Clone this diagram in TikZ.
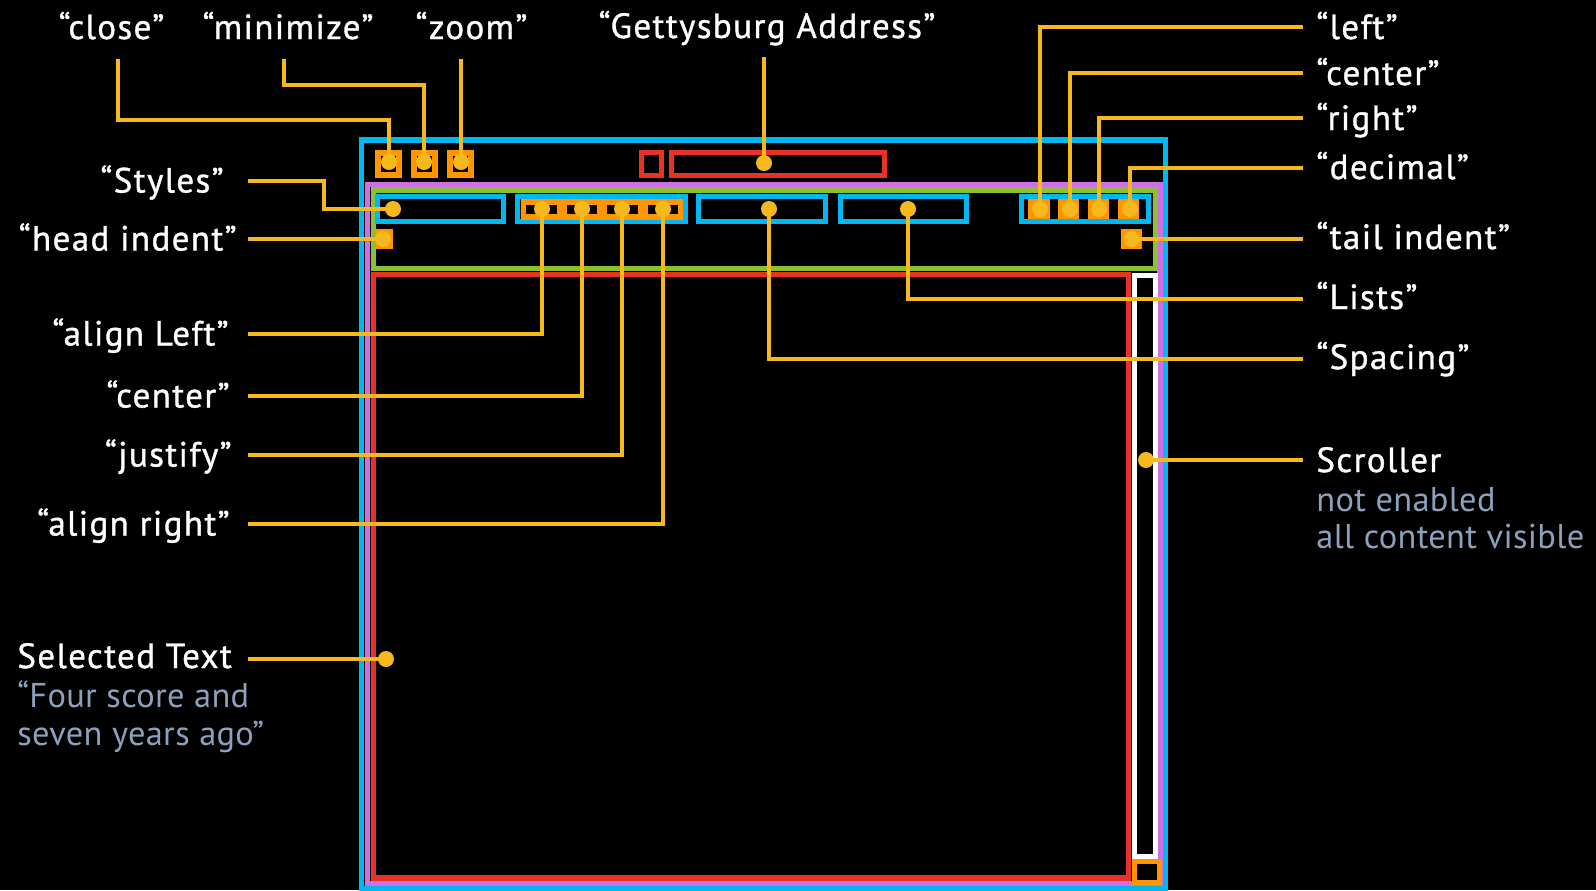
\documentclass[tikz,border=0pt]{standalone}
\usepackage{fontspec}
\setmainfont{PT Sans}
\newfontfamily\labfont[FakeBold=1,LetterSpace=4]{PT Sans}
\newfontfamily\subfont[LetterSpace=1]{PT Sans}
\definecolor{cyanB}{RGB}{0,183,240}
\definecolor{purpleB}{RGB}{208,110,232}
\definecolor{greenB}{RGB}{140,192,52}
\definecolor{redB}{RGB}{232,50,40}
\definecolor{orangeB}{RGB}{255,150,0}
\definecolor{ylead}{RGB}{245,185,30}
\definecolor{subgray}{RGB}{140,162,188}
\tikzset{
  frame/.style={line width=2.6pt},
  lead/.style={draw=ylead, line width=1.85pt},
  dotnode/.style={circle, fill=ylead, minimum size=8pt, inner sep=0pt},
  lab/.style={text=white, font=\labfont\fontsize{17.5pt}{19pt}\selectfont, inner sep=0pt},
  sublab/.style={text=subgray, font=\subfont\fontsize{17.2pt}{19pt}\selectfont, inner sep=0pt},
  btn/.style={draw=orangeB, line width=3pt, fill=black},
  sq/.style={fill=orangeB},
}
\begin{document}
\begin{tikzpicture}[x=0.5pt,y=-0.5pt]
\fill[black] (0,0) rectangle (1596,890);
\useasboundingbox (0,0) rectangle (1596,890);

% head indent square (under green)
\fill[sq] (373,229) rectangle (393,249);

% window frames
\draw[frame, purpleB] (367.5,184.5) rectangle (1160,883.5);
\draw[frame, cyanB] (361.5,140) rectangle (1165.5,888.5);
\draw[frame, greenB] (373.5,190) rectangle (1155.5,268.5);
\draw[frame, redB] (373.5,274.5) rectangle (1128.5,878);
\draw[frame, white] (1134.5,275.5) rectangle (1155.5,856.5);
\draw[frame, orangeB] (1134.5,861.5) rectangle (1159.5,882.5);

% title bar
\draw[btn] (378,153) rectangle (399,175);
\draw[btn] (414,153) rectangle (435,175);
\draw[btn] (450,153) rectangle (471,175);
\draw[frame, redB] (641.5,152.5) rectangle (661.5,175.5);
\draw[frame, redB] (671.5,152.5) rectangle (884.5,175.5);

% toolbar boxes
\draw[frame, cyanB] (377.5,196.5) rectangle (503.5,221.5);
\draw[frame, cyanB] (517.5,196.5) rectangle (685.5,221.5);
\draw[frame, cyanB] (698.5,196.5) rectangle (825.5,221.5);
\draw[frame, cyanB] (840.5,196.5) rectangle (966.5,221.5);
\draw[frame, cyanB] (1021.5,196.5) rectangle (1148.5,221.5);

% alignment segmented control
\fill[orangeB] (521,199) rectangle (683,220);
\foreach \i in {0,1,2,3}{
  \fill[black] ({521+40.5*\i+5},205) rectangle ({521+40.5*(\i+1)-5},214);
}
% tab stops
\fill[sq] (1028,199) rectangle (1050,219);
\fill[sq] (1058,199) rectangle (1079,219);
\fill[sq] (1088,199) rectangle (1109,219);
\fill[sq] (1118,199) rectangle (1139,219);
% tail indent
\fill[sq] (1121,229) rectangle (1142,249);

% dot positions
\coordinate (pClose) at (389,162);
\coordinate (pMin) at (424,162);
\coordinate (pZoom) at (461,162);
\coordinate (pTitle) at (764,163);
\coordinate (pStyles) at (393,209);
\coordinate (pHead) at (383,239);
\coordinate (pAL) at (542,209);
\coordinate (pAC) at (582,209);
\coordinate (pAJ) at (622,209);
\coordinate (pAR) at (663,209);
\coordinate (pSpacing) at (769,209);
\coordinate (pLists) at (908,209);
\coordinate (pTL) at (1040,209);
\coordinate (pTC) at (1070,209);
\coordinate (pTR) at (1099,209);
\coordinate (pTD) at (1130,209);
\coordinate (pTail) at (1132,239);
\coordinate (pScroll) at (1146,460);
\coordinate (pSel) at (386,659);

% leader starts
\coordinate (sClose) at (118,59);
\coordinate (sMin) at (284,59);
\coordinate (sZoom) at (461,59);
\coordinate (sTitle) at (764,57);
\coordinate (sStyles) at (248,181);
\coordinate (sHead) at (248,239);
\coordinate (sAL) at (248,334);
\coordinate (sAC) at (248,396);
\coordinate (sAJ) at (248,455);
\coordinate (sAR) at (248,524);
\coordinate (sSel) at (248,659);
\coordinate (eTL) at (1303,27);
\coordinate (eTC) at (1303,73);
\coordinate (eTR) at (1303,118);
\coordinate (eTD) at (1303,168);
\coordinate (eTail) at (1303,239);
\coordinate (eLists) at (1303,299);
\coordinate (eSpacing) at (1303,359);
\coordinate (eScroll) at (1303,460);

% leaders
\draw[lead] (sClose) -- (sClose |- 0,120) -- (pClose |- 0,120) -- (pClose);
\draw[lead] (sMin) -- (sMin |- 0,85) -- (pMin |- 0,85) -- (pMin);
\draw[lead] (sZoom) -- (pZoom);
\draw[lead] (sTitle) -- (pTitle);
\draw[lead] (sStyles) -- (324,181) -- (324,209) -- (pStyles);
\draw[lead] (sHead) -- (pHead);
\draw[lead] (sAL) -| (pAL);
\draw[lead] (sAC) -| (pAC);
\draw[lead] (sAJ) -| (pAJ);
\draw[lead] (sAR) -| (pAR);
\draw[lead] (sSel) -- (pSel);
\draw[lead] (pTL) |- (eTL);
\draw[lead] (pTC) |- (eTC);
\draw[lead] (pTR) |- (eTR);
\draw[lead] (pTD) |- (eTD);
\draw[lead] (pTail) -- (eTail);
\draw[lead] (pLists) |- (eLists);
\draw[lead] (pSpacing) |- (eSpacing);
\draw[lead] (pScroll) -- (eScroll);

% dots
\foreach \p in {Close,Min,Zoom,Title,Styles,Head,AL,AC,AJ,AR,Spacing,Lists,TL,TC,TR,TD,Tail,Scroll,Sel}{
  \node[dotnode] (d\p) at (p\p) {};
}

% labels top
\node[lab, anchor=base] (lClose) at (111.5,39) {“close”};
\node[lab, anchor=base] (lMin) at (288,39) {“minimize”};
\node[lab, anchor=base] (lZoom) at (471.5,39) {“zoom”};
\node[lab, anchor=base] (lTitle) at (767,38) {“Gettysburg Address”};
% labels left
\node[lab, anchor=base east] (lStyles) at (224,192.5) {“Styles”};
\node[lab, anchor=base east] (lHead) at (237,250.5) {“head indent”};
\node[lab, anchor=base east] (lAL) at (229,345.5) {“align Left”};
\node[lab, anchor=base east] (lAC) at (230,407.5) {“center”};
\node[lab, anchor=base east] (lAJ) at (232,466.5) {“justify”};
\node[lab, anchor=base east] (lAR) at (230,535.5) {“align right”};
\node[lab, anchor=base west] (lSel) at (17,668) {Selected Text};
\node[sublab, anchor=base west] (lSel1) at (17,707) {“Four score and};
\node[sublab, anchor=base west] (lSel2) at (17,745) {seven years ago”};
% labels right
\node[lab, anchor=base west] (lTL) at (1316,39) {“left”};
\node[lab, anchor=base west] (lTC) at (1316,85) {“center”};
\node[lab, anchor=base west] (lTR) at (1316,130) {“right”};
\node[lab, anchor=base west] (lTD) at (1316,179) {“decimal”};
\node[lab, anchor=base west] (lTail) at (1316,249) {“tail indent”};
\node[lab, anchor=base west] (lLists) at (1316,309) {“Lists”};
\node[lab, anchor=base west] (lSpacing) at (1316,369) {“Spacing”};
\node[lab, anchor=base west] (lScroll) at (1316,472) {Scroller};
\node[sublab, anchor=base west] (lScroll1) at (1316,511) {not enabled};
\node[sublab, anchor=base west] (lScroll2) at (1316,548) {all content visible};
\end{tikzpicture}
\end{document}
